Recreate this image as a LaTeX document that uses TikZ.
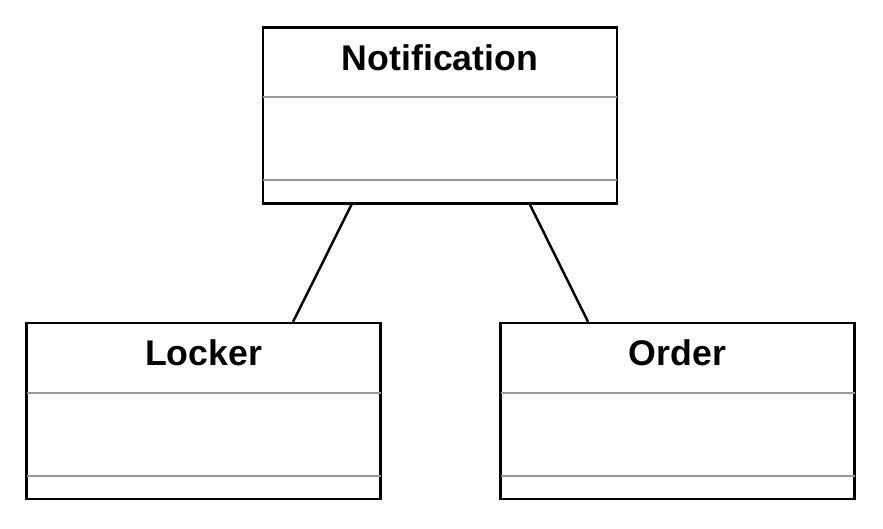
\documentclass[tikz,border=0pt]{standalone}
\usepackage{fontspec}
\setmainfont{Liberation Sans}
\usetikzlibrary{positioning}

\begin{document}
\begin{tikzpicture}[
    classbox/.style={rectangle, draw, line width=1.4pt, minimum width=7.08cm, minimum height=3.52cm, inner sep=0pt},
    classname/.style={anchor=base, font=\fontsize{20.3}{24}\selectfont\bfseries},
    divider/.style={draw=gray!80, line width=1.3pt, shorten <=0.7pt, shorten >=0.7pt}
]
    \useasboundingbox (0,0) rectangle (17.66,10.56);

    % Define the class boxes with specific positions
    \node[classbox] (notification) at (8.80, 8.25) {};
    \node[classbox] (locker) at (4.07, 2.34) {};
    \node[classbox] (order) at (13.55, 2.34) {};

    % Class names at the top of each box
    \node[classname] (notificationname) at ([yshift=-0.89cm]notification.north) {Notification};
    \node[classname] (lockername) at ([yshift=-0.87cm]locker.north) {Locker};
    \node[classname] (ordername) at ([yshift=-0.87cm]order.north) {Order};

    % Draw the compartment lines
    \draw[divider] ([yshift=-1.42cm]notification.north west) -- ([yshift=-1.42cm]notification.north east);
    \draw[divider] ([yshift=-3.08cm]notification.north west) -- ([yshift=-3.08cm]notification.north east);
    \draw[divider] ([yshift=-1.42cm]locker.north west) -- ([yshift=-1.42cm]locker.north east);
    \draw[divider] ([yshift=-3.08cm]locker.north west) -- ([yshift=-3.08cm]locker.north east);
    \draw[divider] ([yshift=-1.42cm]order.north west) -- ([yshift=-1.42cm]order.north east);
    \draw[divider] ([yshift=-3.08cm]order.north west) -- ([yshift=-3.08cm]order.north east);

    % Draw the associations between the classes
    \draw[line width=1.4pt] ([xshift=-1.77cm]notification.south) -- ([xshift=1.79cm]locker.north);
    \draw[line width=1.4pt] ([xshift=1.80cm]notification.south) -- ([xshift=-1.79cm]order.north);
\end{tikzpicture}
\end{document}
